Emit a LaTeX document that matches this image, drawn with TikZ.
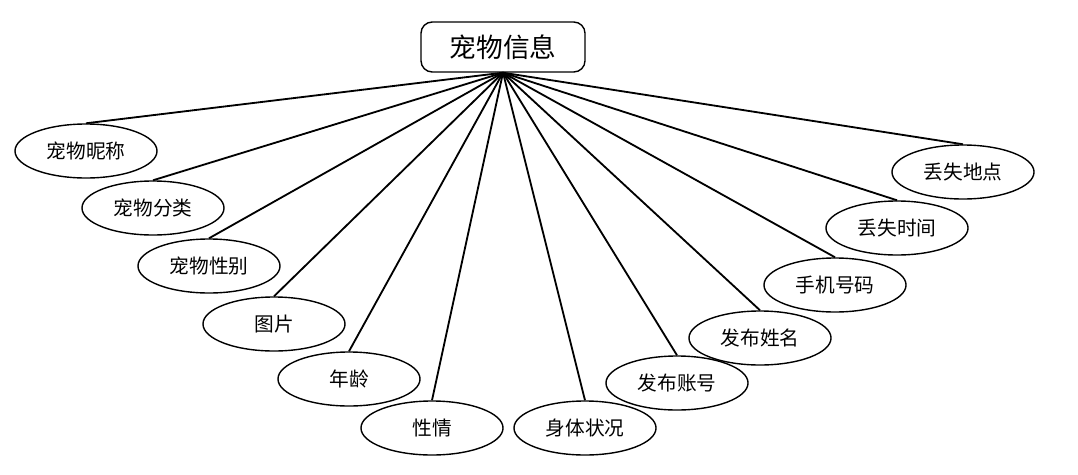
\documentclass[tikz,border=0pt]{standalone}
\usepackage{fontspec}
\setmainfont{Noto Sans CJK SC}
\usetikzlibrary{shapes.geometric}

\tikzset{
    attr/.style={draw, ellipse, line width=1pt, minimum width=3.55cm, minimum height=1.35cm, inner sep=0pt, font=\fontsize{14}{16}\selectfont},
    ent/.style={draw, rounded corners=8pt, line width=1pt, minimum width=4.1cm, minimum height=1.25cm, font=\fontsize{19}{22}\selectfont},
    link/.style={line width=1.3pt}
}

\begin{document}
\begin{tikzpicture}[x=0.025cm, y=-0.025cm]

    \useasboundingbox (0, 0) rectangle (1078, 474);

    \node [ent] (r) at (503, 47) {宠物信息};

    \node [attr] (a) at (86, 151) {宠物昵称};
    \node [attr] (b) at (153, 208) {宠物分类};
    \node [attr] (c) at (209, 266) {宠物性别};
    \node [attr] (d) at (274, 324) {图片};
    \node [attr] (e) at (349, 379) {年龄};
    \node [attr] (f) at (432, 428) {性情};
    \node [attr] (g) at (585, 428) {身体状况};
    \node [attr] (h) at (677, 383) {发布账号};
    \node [attr] (i) at (760, 338) {发布姓名};
    \node [attr] (j) at (835, 285) {手机号码};
    \node [attr] (k) at (897, 228) {丢失时间};
    \node [attr] (l) at (963, 172) {丢失地点};

    \foreach \n in {a, b, c, d, e, f, g, h, i, j, k, l}
        \draw [link] (r.south) -- (\n.north);

\end{tikzpicture}
\end{document}
